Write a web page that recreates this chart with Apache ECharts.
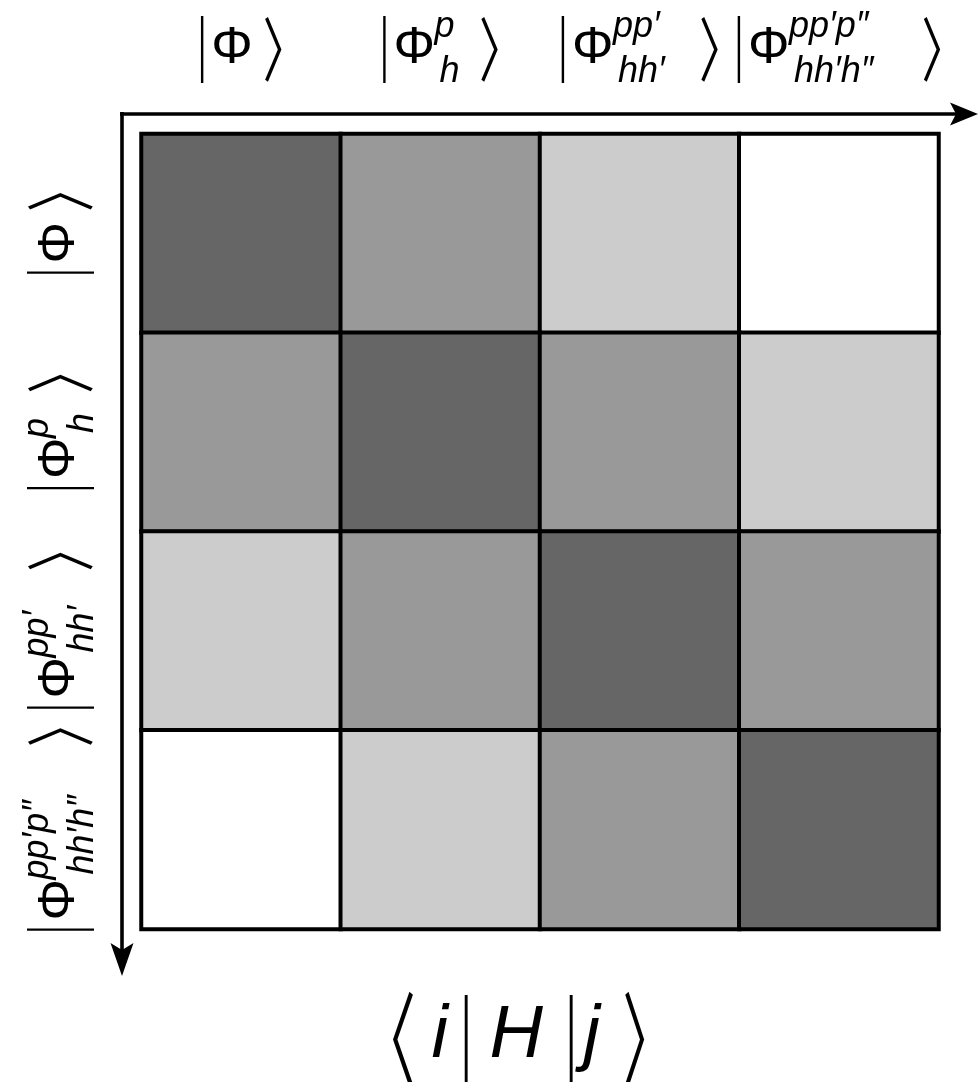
<!DOCTYPE html>
<html>
<head>
<meta charset="utf-8">
<script src="https://cdn.jsdelivr.net/npm/echarts@6/dist/echarts.min.js"></script>
<style>
html,body{margin:0;padding:0;background:#ffffff;}
#c{width:979px;height:1082px;}
</style>
</head>
<body>
<div id="c"></div>
<script>
// ---------- data ----------
const stateNames = ['|Φ⟩', '|Φ_h^p⟩', "|Φ_hh'^pp'⟩", "|Φ_hh'h''^pp'p''⟩"];
const stateSup = ['', 'p', 'pp′', 'pp′p″'];
const stateSub = ['', 'h', 'hh′', 'hh′h″'];
// coupling strength level of <i|H|j> (3 = strongest/darkest, 0 = none/white)
const couplingRow0 = [3, 2, 1, 0];
const couplingRow1 = [2, 3, 2, 1];
const couplingRow2 = [1, 2, 3, 2];
const couplingRow3 = [0, 1, 2, 3];
const couplingRows = [couplingRow0, couplingRow1, couplingRow2, couplingRow3];
const bottomTokens = ['\u2329', 'i', '|', 'H', '|', 'j', '\u232A'];
const KET_CLOSE = '\u232A';

// ---------- styles ----------
const levelColors = ['#ffffff', '#cccccc', '#999999', '#666666'];
const SANS = '"Liberation Sans", Arial, sans-serif';
const BRK = '"DejaVu Sans", "Noto Sans CJK SC", sans-serif';
const GRID = {left: 141.5, top: 134, width: 797, height: 795};

const cells = [];
couplingRows.forEach((row, r) => row.forEach((v, c) => cells.push([c, r, v])));

const chart = echarts.init(document.getElementById('c'), null, {renderer: 'canvas'});
chart.setOption({
  animation: false,
  backgroundColor: '#ffffff',
  grid: {left: GRID.left, top: GRID.top, width: GRID.width, height: GRID.height},
  xAxis: {type: 'category', data: stateNames, position: 'top',
    axisLine: {show: false}, axisTick: {show: false}, axisLabel: {show: false}, splitLine: {show: false}},
  yAxis: {type: 'category', data: stateNames, inverse: true,
    axisLine: {show: false}, axisTick: {show: false}, axisLabel: {show: false}, splitLine: {show: false}},
  visualMap: {type: 'piecewise', show: false, dimension: 2,
    pieces: levelColors.map((col, i) => ({value: i, color: col}))},
  series: [{
    type: 'heatmap', data: cells,
    itemStyle: {borderColor: '#000000', borderWidth: 4},
    emphasis: {disabled: true}, label: {show: false}
  }]
});

// ---------- text composition helpers ----------
const mctx = document.createElement('canvas').getContext('2d');
function metrics(text, font) {
  mctx.font = font; mctx.textAlign = 'left';
  mctx.textBaseline = 'middle';
  const m = mctx.measureText(text);
  mctx.textBaseline = 'alphabetic';
  const a = mctx.measureText(text);
  return {left: m.actualBoundingBoxLeft, right: m.actualBoundingBoxRight,
    ascM: m.actualBoundingBoxAscent, descM: m.actualBoundingBoxDescent,
    ascA: a.actualBoundingBoxAscent, descA: a.actualBoundingBoxDescent};
}
function txt(text, font, x, y, sx, sy) {
  return {type: 'text', x: x, y: y, scaleX: sx || 1, scaleY: sy || 1, silent: true,
    style: {text: text, font: font, fill: '#000000', textAlign: 'left',
      textVerticalAlign: 'middle', verticalAlign: 'middle'}};
}
// normal glyph run: ink left + alphabetic baseline
function normal(text, font, inkLeft, base) {
  const m = metrics(text, font);
  const el = txt(text, font, inkLeft + m.left, base - m.ascA + m.ascM);
  return {el: el, w: m.left + m.right};
}
// stretched delimiter: ink box
function delim(text, font, inkLeft, top, bottom, width) {
  const m = metrics(text, font);
  const sy = (bottom - top) / (m.ascM + m.descM);
  const iw = m.left + m.right;
  const sx = width ? width / iw : 1;
  const el = txt(text, font, inkLeft + m.left * sx, top + m.ascM * sy, sx, sy);
  return {el: el, w: iw * sx};
}

function ketGroup(i, cx, cy, rotation) {
  const els = [];
  let x = 0;
  const bar = delim('|', '30px ' + SANS, x, -34, 34);
  els.push(bar.el); x += bar.w + 9;
  const phi = normal('Φ', '52px ' + SANS, x, 14);
  els.push(phi.el); x += phi.w;
  let gap = 15;
  if (stateSup[i]) {
    const sf = 'italic 36px ' + SANS;
    const sp = normal(stateSup[i], sf, x + 1, -12);
    const sb = normal(stateSub[i], sf, x + 7, 33);
    els.push(sp.el, sb.el);
    const w = Math.max(1 + sp.w, 7 + sb.w);
    x += w;
    gap = 12 + 0.42 * w;
  }
  x += gap;
  const k = delim(KET_CLOSE, '40px ' + BRK, x, -32, 34, 17);
  els.push(k.el); x += k.w;
  const half = x / 2;
  els.forEach(e => { e.x -= half; });
  return {type: 'group', x: cx, y: cy, rotation: rotation, children: els, silent: true};
}

function bottomGroup(cx) {
  const els = [];
  const base = 1057, top = 992, bot = 1088;
  const f = 'italic 74px ' + SANS;
  let x = 0;
  let p;
  p = delim(bottomTokens[0], '50px ' + BRK, x, top, bot, 21); els.push(p.el); x += p.w + 19;
  p = normal(bottomTokens[1], f, x, base); els.push(p.el); x += p.w + 14;
  p = delim(bottomTokens[2], '36px ' + SANS, x, top, bot); els.push(p.el); x += p.w + 23;
  p = normal(bottomTokens[3], f, x, base); els.push(p.el); x += p.w + 26;
  p = delim(bottomTokens[4], '36px ' + SANS, x, top, bot); els.push(p.el); x += p.w + 1;
  p = normal(bottomTokens[5], f, x, base); els.push(p.el); x += p.w + 22;
  p = delim(bottomTokens[6], '50px ' + BRK, x, top, bot, 20); els.push(p.el); x += p.w;
  const half = x / 2;
  els.forEach(e => { e.x -= half; });
  return {type: 'group', x: cx, y: 0, children: els, silent: true};
}

const graphics = [];
stateNames.forEach((name, i) => {
  const px = chart.convertToPixel({xAxisIndex: 0}, name);
  const py = chart.convertToPixel({yAxisIndex: 0}, name);
  graphics.push(ketGroup(i, px, GRID.top - 85, 0));
  graphics.push(ketGroup(i, GRID.left - 81.5, py, Math.PI / 2));
});
graphics.push(bottomGroup(518.5));

// axis arrows
const ay = GRID.top - 20, ax = GRID.left - 19.5;
graphics.push({type: 'line', silent: true, shape: {x1: GRID.left - 21.5, y1: ay, x2: 960, y2: ay},
  style: {stroke: '#000', lineWidth: 3.6}});
graphics.push({type: 'polygon', silent: true,
  shape: {points: [[978, ay], [950, ay - 11.5], [956, ay], [950, ay + 11.5]]}, style: {fill: '#000'}});
graphics.push({type: 'line', silent: true, shape: {x1: ax, y1: ay - 2, x2: ax, y2: 955},
  style: {stroke: '#000', lineWidth: 3.6}});
graphics.push({type: 'polygon', silent: true,
  shape: {points: [[ax, 976], [ax - 11.5, 943], [ax, 950], [ax + 11.5, 943]]}, style: {fill: '#000'}});

chart.setOption({graphic: graphics});
</script>
</body>
</html>
